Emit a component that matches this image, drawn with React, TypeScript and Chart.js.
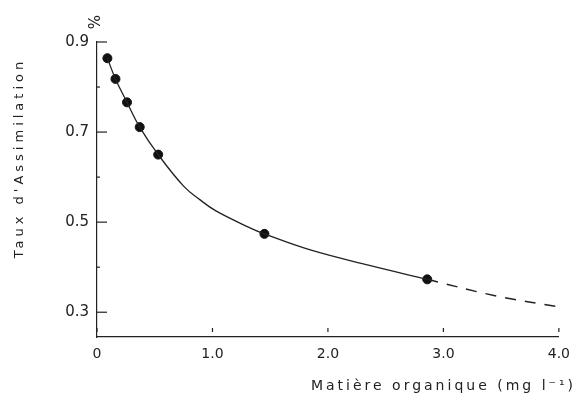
import React, { useEffect, useRef } from "react";
import { Chart, registerables } from "chart.js";

Chart.register(...registerables);

// Measured points (Matière organique, Taux d'assimilation)
const pointX = [0.09, 0.16, 0.26, 0.37, 0.53, 1.45, 2.86];
const pointY = [0.864, 0.818, 0.766, 0.711, 0.65, 0.474, 0.373];

// Fitted curve (solid part)
const curveX = [0.09, 0.16, 0.26, 0.37, 0.53, 0.75, 0.89, 1.03, 1.32, 1.45, 1.84, 2.36, 2.86];
const curveY = [0.864, 0.818, 0.766, 0.711, 0.65, 0.58, 0.55, 0.525, 0.488, 0.474, 0.439, 0.404, 0.373];

// Extrapolated curve (dashed part)
const dashX = [2.86, 3.46, 4.0];
const dashY = [0.373, 0.336, 0.312];

const yMajorTicks = [0.3, 0.5, 0.7, 0.9];
const yMinorTicks = [0.4, 0.6, 0.8];
const yTickLabels = ["0.3", "0.5", "0.7", "0.9"];
const xTicks = [0, 1, 2, 3, 4];
const xTickLabels = ["0", "1.0", "2.0", "3.0", "4.0"];

const xTitle = "Matière organique (mg l⁻¹)";
const yTitle = "Taux d'Assimilation";
const unitLabel = "%";

const FONT = "'DejaVu Sans', sans-serif";
const INK = "#222";

const toXY = (xs: number[], ys: number[]) => xs.map((x, i) => ({ x, y: ys[i] }));

const decorPlugin = {
  id: "decor",
  afterDraw(chart: any) {
    const { ctx, chartArea, scales } = chart;
    const xs = scales.x;
    const ys = scales.y;
    ctx.save();
    ctx.strokeStyle = INK;
    ctx.lineWidth = 1.2;
    // inward y ticks
    yMajorTicks.forEach((v) => {
      const p = ys.getPixelForValue(v);
      ctx.beginPath();
      ctx.moveTo(chartArea.left, p);
      ctx.lineTo(chartArea.left + 10, p);
      ctx.stroke();
    });
    yMinorTicks.forEach((v) => {
      const p = ys.getPixelForValue(v);
      ctx.beginPath();
      ctx.moveTo(chartArea.left, p);
      ctx.lineTo(chartArea.left + 3, p);
      ctx.stroke();
    });
    // inward x ticks
    xTicks.forEach((v) => {
      const p = xs.getPixelForValue(v);
      ctx.beginPath();
      ctx.moveTo(p, chartArea.bottom - 5);
      ctx.lineTo(p, chartArea.bottom - 9);
      ctx.stroke();
    });
    ctx.fillStyle = INK;
    // x title
    ctx.font = `14px ${FONT}`;
    (ctx as any).letterSpacing = "3px";
    ctx.textAlign = "right";
    ctx.textBaseline = "middle";
    ctx.fillText(xTitle, 576, 386);
    // y title
    ctx.save();
    ctx.translate(20, 158);
    ctx.rotate(-Math.PI / 2);
    ctx.textAlign = "center";
    (ctx as any).letterSpacing = "4px";
    ctx.font = `13px ${FONT}`;
    ctx.fillText(yTitle, 0, 0);
    ctx.restore();
    // unit %
    ctx.save();
    ctx.translate(96, 22);
    ctx.rotate(-Math.PI / 2);
    (ctx as any).letterSpacing = "0px";
    ctx.textAlign = "center";
    ctx.font = `15px ${FONT}`;
    ctx.fillText(unitLabel, 0, 0);
    ctx.restore();
    ctx.restore();
  },
};

export default function App() {
  const ref = useRef<HTMLCanvasElement>(null);
  useEffect(() => {
    if (!ref.current) return;
    const chart = new Chart(ref.current, {
      type: "scatter",
      data: {
        datasets: [
          {
            type: "line",
            data: toXY(curveX, curveY),
            borderColor: INK,
            borderWidth: 1.3,
            pointRadius: 0,
            tension: 0.4,
            fill: false,
          } as any,
          {
            type: "line",
            data: toXY(dashX, dashY),
            borderColor: INK,
            borderWidth: 1.5,
            borderDash: [11, 9],
            pointRadius: 0,
            tension: 0.4,
            fill: false,
          } as any,
          {
            type: "scatter",
            data: toXY(pointX, pointY),
            backgroundColor: "#111",
            borderColor: "#111",
            pointRadius: 4.5,
          },
        ],
      },
      plugins: [decorPlugin],
      options: {
        responsive: false,
        animation: false,
        layout: { padding: { top: 42, right: 19, left: 0, bottom: 0 } },
        plugins: {
          legend: { display: false },
          tooltip: { enabled: false },
          title: { display: false },
        },
        scales: {
          x: {
            type: "linear",
            min: 0,
            max: 4,
            afterBuildTicks: (scale: any) => {
              scale.ticks = xTicks.map((v) => ({ value: v }));
            },
            afterFit: (scale: any) => {
              scale.height = 63;
            },
            ticks: {
              padding: 9,
              color: INK,
              font: { family: FONT, size: 14 },
              maxRotation: 0,
              callback: (v: any) => {
                const i = xTicks.indexOf(Number(v));
                return i >= 0 ? xTickLabels[i] : "";
              },
            },
            grid: { display: false, drawTicks: false },
            border: { display: true, color: INK, width: 1.3 },
          },
          y: {
            type: "linear",
            min: 0.245,
            max: 0.9,
            afterBuildTicks: (scale: any) => {
              scale.ticks = yMajorTicks.map((v) => ({ value: v }));
            },
            afterFit: (scale: any) => {
              scale.width = 97;
            },
            ticks: {
              padding: 8,
              color: INK,
              font: { family: FONT, size: 15 },
              callback: (v: any) => {
                const i = yMajorTicks.findIndex((t) => Math.abs(t - Number(v)) < 1e-6);
                return i >= 0 ? yTickLabels[i] : "";
              },
            },
            grid: { display: false, drawTicks: false },
            border: { display: true, color: INK, width: 1.2 },
          },
        },
      } as any,
    });
    return () => chart.destroy();
  }, []);
  return (
    <div style={{ position: "absolute", left: 0, top: 0, width: 579, height: 400, background: "#fff" }}>
      <canvas ref={ref} width={579} height={400} style={{ display: "block" }} />
    </div>
  );
}
